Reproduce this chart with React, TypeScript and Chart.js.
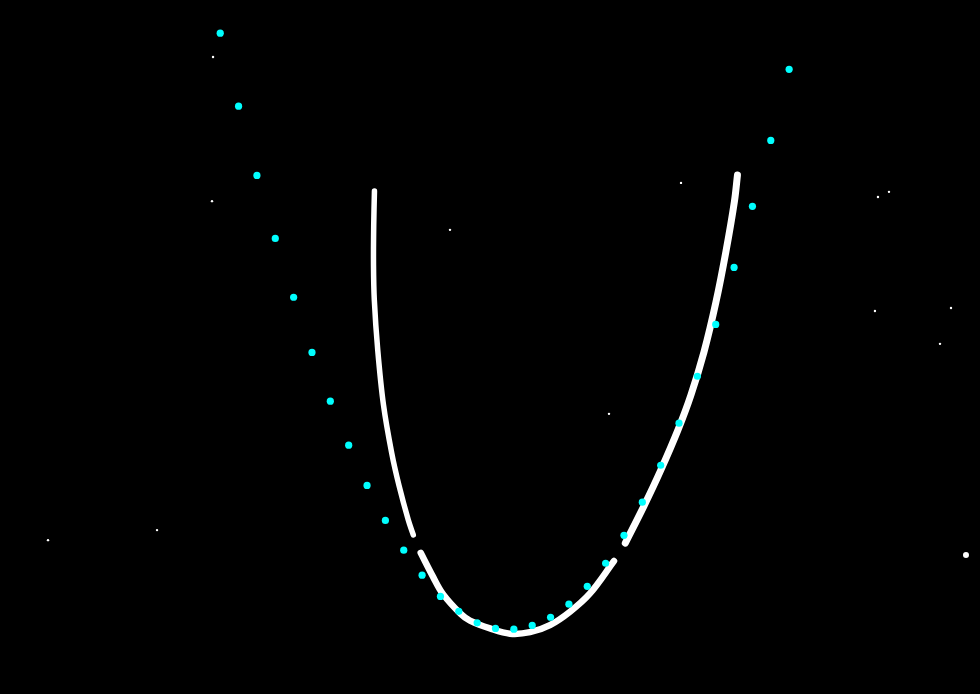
import { useEffect, useRef } from 'react';
import { Chart, registerables, ChartConfiguration } from 'chart.js';

Chart.register(...registerables);

// sampled points (x from -4 to 3.75 in steps of 0.25)
const sampleX = [
  -4, -3.75, -3.5, -3.25, -3, -2.75, -2.5, -2.25, -2, -1.75, -1.5, -1.25, -1, -0.75, -0.5, -0.25,
  0, 0.25, 0.5, 0.75, 1, 1.25, 1.5, 1.75, 2, 2.25, 2.5, 2.75, 3, 3.25, 3.5, 3.75,
];
const sampleY = [
  16.29, 14.33, 12.47, 10.78, 9.2, 7.72, 6.41, 5.23, 4.15, 3.21, 2.41, 1.74, 1.17, 0.77, 0.46, 0.31,
  0.29, 0.39, 0.61, 0.96, 1.44, 2.06, 2.81, 3.7, 4.69, 5.82, 7.08, 8.47, 10.0, 11.64, 13.41, 15.32,
];

// fitted curve, drawn in three pieces
const curveLeftX = [-1.899, -1.909, -1.912, -1.901, -1.854, -1.776, -1.664, -1.565, -1.438, -1.37];
const curveLeftY = [12.05, 11.14, 10.07, 9.13, 7.78, 6.31, 5.02, 4.15, 3.22, 2.82];

const curveMidX = [-1.269, -1.102, -0.965, -0.724, -0.598, -0.325, -0.053, 0.22, 0.492, 0.765, 1.037, 1.364];
const curveMidY = [2.34, 1.7, 1.23, 0.7, 0.52, 0.31, 0.17, 0.21, 0.4, 0.76, 1.25, 2.12];

const curveRightX = [1.518, 1.773, 1.997, 2.236, 2.413, 2.59, 2.753, 2.89, 3.005, 3.046];
const curveRightY = [2.6, 3.6, 4.54, 5.64, 6.58, 7.73, 9.07, 10.44, 11.78, 12.48];

// stray marks
const speckX = [-4.098, -4.112, -0.87, 2.277, -6.346, -4.861, 4.96, 5.11, 4.919, 5.955, 5.805, 1.296, 6.159];
const speckY = [15.65, 11.78, 11.01, 12.27, 2.68, 2.95, 11.89, 12.03, 8.83, 8.91, 7.95, 6.07, 2.28];

const toPoints = (xs: number[], ys: number[]) => xs.map((x, i) => ({ x, y: ys[i] }));

export default function App() {
  const chartRef = useRef<HTMLCanvasElement | null>(null);

  useEffect(() => {
    document.body.style.margin = '0';
    document.body.style.background = '#000';
    if (!chartRef.current) return;
    const ctx = chartRef.current.getContext('2d');
    if (!ctx) return;

    const curveStyle = {
      showLine: true,
      borderColor: '#ffffff',
      pointRadius: 0,
      tension: 0.35,
      borderCapStyle: 'round' as const,
      fill: false,
      order: 1,
    };

    const config: ChartConfiguration<'scatter'> = {
      type: 'scatter',
      data: {
        datasets: [
          {
            label: 'samples',
            data: toPoints(sampleX, sampleY),
            backgroundColor: '#00ffff',
            borderWidth: 0,
            pointRadius: 3.6,
            order: 0,
          },
          { label: 'fit left', data: toPoints(curveLeftX, curveLeftY), borderWidth: 5.5, ...curveStyle },
          { label: 'fit mid', data: toPoints(curveMidX, curveMidY), borderWidth: 6.5, ...curveStyle },
          { label: 'fit right', data: toPoints(curveRightX, curveRightY), borderWidth: 7, ...curveStyle },
          {
            label: 'specks',
            data: toPoints(speckX, speckY),
            backgroundColor: '#ffffff',
            borderWidth: 0,
            pointRadius: (c) => (c.dataIndex === speckX.length - 1 ? 3 : 1.2),
            order: 2,
          },
        ],
      },
      options: {
        animation: false,
        responsive: true,
        maintainAspectRatio: false,
        events: [],
        layout: { padding: 0, autoPadding: false },
        plugins: {
          legend: { display: false },
          tooltip: { enabled: false },
        },
        scales: {
          x: { type: 'linear', min: -7, max: 6.35, display: false },
          y: { type: 'linear', min: -1.45, max: 17.18, display: false },
        },
      },
    };

    const chartInstance = new Chart(ctx, config);
    return () => {
      chartInstance.destroy();
    };
  }, []);

  return (
    <div style={{ position: 'fixed', left: 0, top: 0, width: 980, height: 694, background: '#000' }}>
      <canvas ref={chartRef}></canvas>
    </div>
  );
}
